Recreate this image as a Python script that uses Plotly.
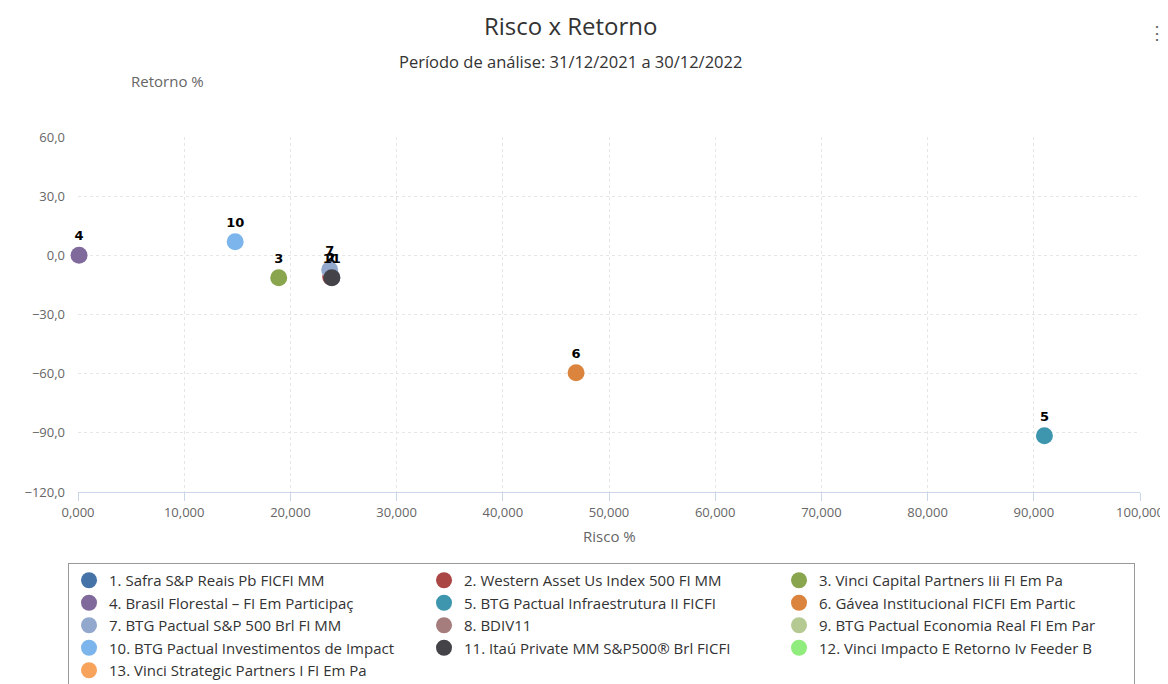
import plotly.graph_objects as go

names = [
    "1. Safra S&P Reais Pb FICFI MM",
    "2. Western Asset Us Index 500 FI MM",
    "3. Vinci Capital Partners Iii FI Em Pa",
    "4. Brasil Florestal – FI Em Participaç",
    "5. BTG Pactual Infraestrutura II FICFI",
    "6. Gávea Institucional FICFI Em Partic",
    "7. BTG Pactual S&P 500 Brl FI MM",
    "8. BDIV11",
    "9. BTG Pactual Economia Real FI Em Par",
    "10. BTG Pactual Investimentos de Impact",
    "11. Itaú Private MM S&P500® Brl FICFI",
    "12. Vinci Impacto E Retorno Iv Feeder B",
    "13. Vinci Strategic Partners I FI Em Pa",
]
labels = ["1", "2", "3", "4", "5", "6", "7", "8", "9", "10", "11", "12", "13"]
risco = [23.9, 23.8, 18.9, 0.1, 91.0, 46.9, 23.7, None, None, 14.8, 23.9, None, None]
retorno = [-11.2, -11.0, -11.4, 0.0, -91.5, -59.5, -7.3, None, None, 6.9, -11.4, None, None]
colors = ["#4572A7", "#AA4643", "#89A54E", "#80699B", "#3D96AE", "#DB843D", "#92A8CD",
          "#A47D7C", "#B5CA92", "#7cb5ec", "#434348", "#90ed7d", "#f7a35c"]

x_ticks = [0, 10, 20, 30, 40, 50, 60, 70, 80, 90, 100]
y_ticks = [-120, -90, -60, -30, 0, 30, 60]

fig = go.Figure()
for i in range(len(names)):
    fig.add_trace(go.Scatter(
        x=[risco[i]], y=[retorno[i]], name=names[i],
        mode="markers+text", text=["<b>" + labels[i] + "</b>"],
        textposition="top center", cliponaxis=False,
        textfont=dict(family="DejaVu Sans", size=13, color="#000000"),
        marker=dict(size=17, color=colors[i]),
        showlegend=True,
    ))

fig.update_layout(
    width=1160, height=676,
    separators=",.",
    paper_bgcolor="white", plot_bgcolor="white",
    margin=dict(l=70, r=28, t=129, b=192, autoexpand=False),
    font=dict(family="Open Sans", color="#333333"),
    xaxis=dict(range=[0, 100], tickvals=x_ticks, tickformat=".3f",
               showgrid=True, gridcolor="#e6e6e6", griddash="dot",
               showline=True, linecolor="#ccd6eb", linewidth=1,
               ticks="outside", tickcolor="#ccd6eb", ticklen=8,
               tickfont=dict(size=13, color="#666666"), zeroline=False),
    yaxis=dict(range=[-120, 60], tickvals=y_ticks, tickformat=".1f",
               showgrid=True, gridcolor="#e6e6e6", griddash="dot",
               showline=False, zeroline=False, ticklabelstandoff=12,
               tickfont=dict(size=13, color="#666666")),
    legend=dict(orientation="h", x=-0.0094, xanchor="left", y=-0.2, yanchor="top",
                bordercolor="#999999", borderwidth=1, bgcolor="white",
                font=dict(size=15, color="#333333"),
                entrywidth=310, entrywidthmode="pixels", tracegroupgap=0,
                itemsizing="trace"),
    annotations=[
        dict(text="Risco x Retorno", x=0.464, y=1, xref="paper", yref="paper",
             yanchor="middle", xanchor="center", yshift=112, showarrow=False,
             font=dict(size=24, color="#333333")),
        dict(text="Período de análise: 31/12/2021 a 30/12/2022", x=0.464, y=1,
             xref="paper", yref="paper", yanchor="middle", xanchor="center",
             yshift=76, showarrow=False, font=dict(size=16.5, color="#333333")),
        dict(text="Retorno %", x=0.084, y=1, xref="paper", yref="paper",
             yanchor="middle", xanchor="center", yshift=56, showarrow=False,
             font=dict(size=15, color="#666666")),
        dict(text="Risco %", x=0.5, y=0, xref="paper", yref="paper",
             yanchor="middle", xanchor="center", yshift=-44, showarrow=False,
             font=dict(size=15, color="#666666")),
        dict(text="⋮", x=1, y=1, xref="paper", yref="paper", xanchor="right",
             yanchor="middle", xshift=28, yshift=105, showarrow=False,
             font=dict(size=18, color="#666666")),
    ],
)

fig.write_html("out.html")
